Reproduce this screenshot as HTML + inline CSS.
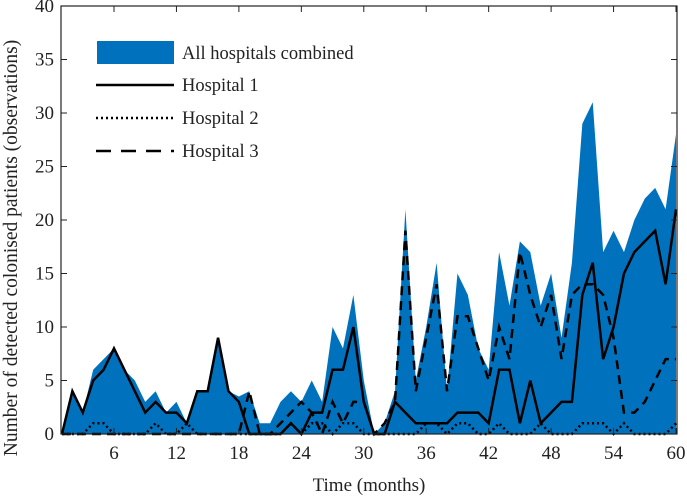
<!DOCTYPE html>
<html><head><meta charset="utf-8"><style>
body{margin:0;background:#fff;}
svg{display:block;font-family:"Liberation Serif",serif;}
</style></head><body>
<svg id="chart" width="687" height="496"></svg>
<script>
const months=[];for(let i=1;i<=60;i++)months.push(i);
const totalVals=[0,4,2,6,7,8,6,5,3,4,2,3,1,4,4,9,4,3.5,4,1,1,3,4,3,5,3,10,8,13,5,0,1,4,21,5,10,16,4,15,13,8,6,17,12,18,17,12,15,9,16,29,31,17,19,17,20,22,23,21,28];
const h1Vals=[0,4,2,5,6,8,6,4,2,3,2,2,1,4,4,9,4,3,0,0,0,0,1,0,2,2,6,6,10,3,0,0,3,2,1,1,1,1,2,2,2,1,6,6,1,5,1,2,3,3,13,16,7,10,15,17,18,19,14,21];
const h2Vals=[0,0,0,1,1,0,0,0,0,1,0,0,1,0,0,0,0,0,0,0,0,0,1,0,1,1,0,1,1,0,0,0,0,0,0,1,1,0,1,1,0,0,1,0,0,0,1,0,0,0,1,1,1,0,1,0,0,0,0,1];
const h3Vals=[0,0,0,0,0,0,0,0,0,0,0,0,0,0,0,0,0,0,4,0,0,1,2,3,2,0,3,1,3,3,0,1,3,19,4,9,14,4,11,11,8,5,10,7,17,13,10,13,7,13,14,14,13,9,2,2,3,5,7,7];
const xTicks=[6,12,18,24,30,36,42,48,54,60];
const yTicks=[0,5,10,15,20,25,30,35,40];
const L=61,R=677,T=6,B=434;
const x=m=>114+(m-6)*(676-114)/54;
const y=v=>B-v*(B-T)/40;
const NS="http://www.w3.org/2000/svg";
const svg=document.getElementById('chart');
function mk(t,a,p){const e=document.createElementNS(NS,t);for(const k in a)e.setAttribute(k,a[k]);(p||svg).appendChild(e);return e;}
let d=`M${x(1)},${y(0)}`;months.forEach((m,i)=>d+=`L${x(m)},${y(totalVals[i])}`);d+=`L${x(60)},${y(0)}Z`;
const area=mk('path',{d:d,fill:'#0072BD'});


function line(vals,dash,name){let p='';months.forEach((m,i)=>p+=(i?'L':'M')+x(m)+','+y(vals[i]));
const e=mk('path',{d:p,fill:'none',stroke:'#000','stroke-width':2.5,'stroke-dasharray':dash,'stroke-linejoin':'miter'});

}
line(h3Vals,'9,6','hospital-3-line');
line(h2Vals,'2,3','hospital-2-line');
line(h1Vals,'none','hospital-1-line');
const box=mk('rect',{x:L,y:T,width:R-L,height:B-T,fill:'none',stroke:'#222','stroke-width':1.2});


xTicks.forEach(m=>{mk('line',{x1:x(m),x2:x(m),y1:B,y2:B-6,stroke:'#222'});mk('line',{x1:x(m),x2:x(m),y1:T,y2:T+6,stroke:'#222'});
const t=mk('text',{x:x(m),y:B+25,'text-anchor':'middle','font-size':19,fill:'#222'});t.textContent=m;

});
yTicks.forEach(v=>{mk('line',{x1:L,x2:L+6,y1:y(v),y2:y(v),stroke:'#222'});mk('line',{x1:R,x2:R-6,y1:y(v),y2:y(v),stroke:'#222'});
const t=mk('text',{x:L-7,y:y(v)+6,'text-anchor':'end','font-size':19,fill:'#222'});t.textContent=v;

});
const xt=mk('text',{x:369,y:491,'text-anchor':'middle','font-size':19,fill:'#222'});xt.textContent='Time (months)';


const yt=mk('text',{x:0,y:0,'text-anchor':'middle','font-size':19.5,fill:'#222',transform:'translate(17,248) rotate(-90)'});yt.textContent='Number of detected colonised patients (observations)';


const lg=mk('g',{});


mk('rect',{x:97,y:41,width:77,height:23,fill:'#0072BD'},lg);
mk('line',{x1:96,x2:174,y1:85,y2:85,stroke:'#000','stroke-width':2.5},lg);
mk('line',{x1:96,x2:174,y1:118,y2:118,stroke:'#000','stroke-width':2.5,'stroke-dasharray':'2,3'},lg);
mk('line',{x1:96,x2:174,y1:151,y2:151,stroke:'#000','stroke-width':2.5,'stroke-dasharray':'15,10'},lg);
[['All hospitals combined',59],['Hospital 1',91],['Hospital 2',124],['Hospital 3',157]].forEach(([s,yy])=>{
const t=mk('text',{x:182,y:yy,'font-size':18.5,fill:'#222'},lg);t.textContent=s;

});
</script>
</body></html>
